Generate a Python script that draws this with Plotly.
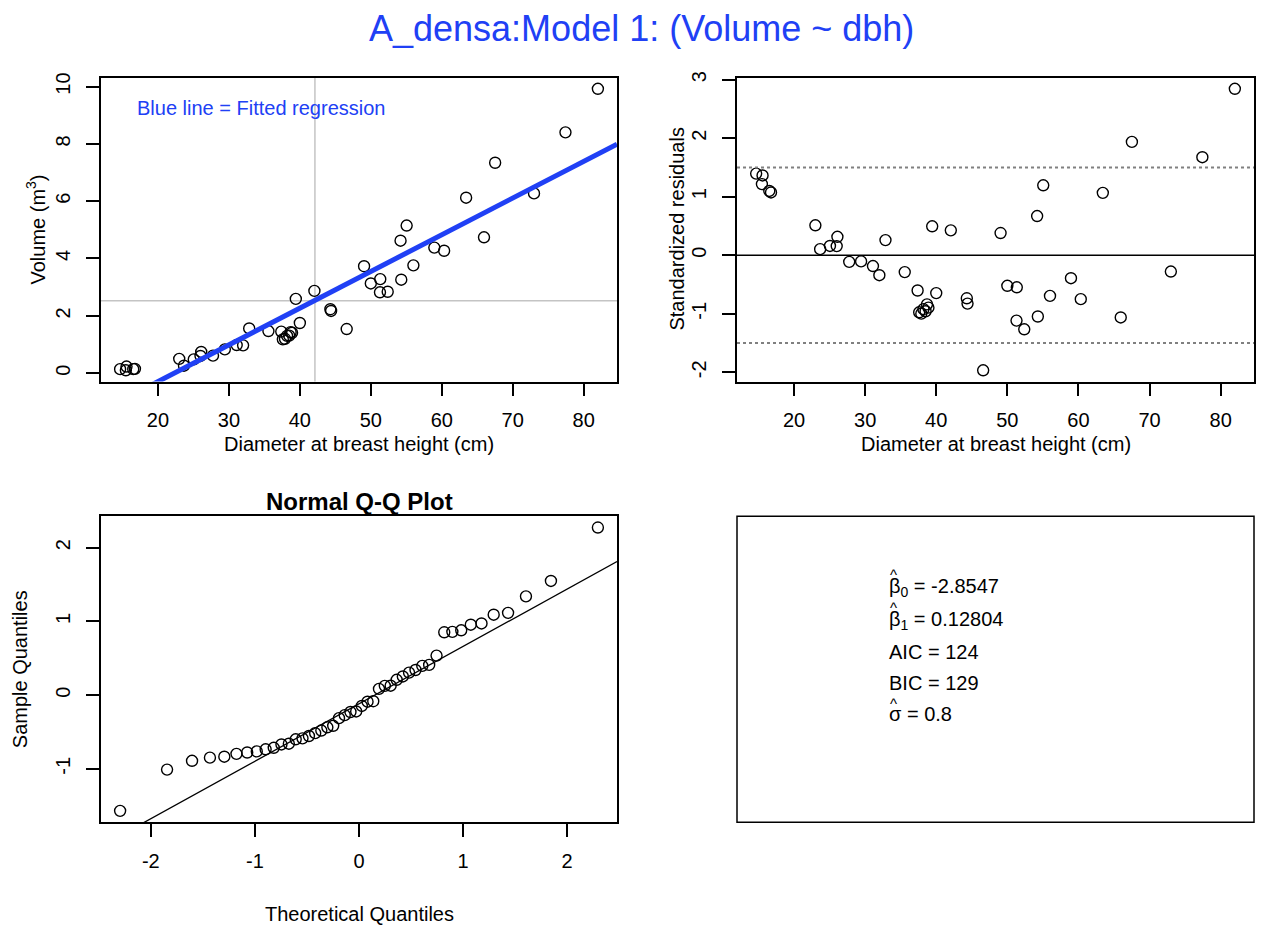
import numpy as np
import plotly.graph_objects as go
from statistics import NormalDist

# Tree measurements: diameter at breast height (cm) and stem volume (m^3)
dbh = [14.67, 15.48, 15.57, 16.52, 16.76, 23.0, 23.67, 25.05, 26.0, 26.1,
       27.76, 29.43, 31.1, 32.0, 32.86, 35.57, 37.38, 37.6, 37.9, 38.2,
       38.5, 38.7, 38.9, 39.43, 40.0, 42.05, 44.3, 44.4, 46.6, 49.05,
       50.0, 51.29, 51.33, 52.38, 54.19, 54.29, 55.05, 56.0, 58.95, 60.33,
       63.43, 65.95, 67.52, 73.0, 77.43, 82.0]
volume = [0.14, 0.10, 0.23, 0.14, 0.15, 0.50, 0.26, 0.48, 0.60, 0.74,
          0.61, 0.83, 0.98, 0.97, 1.56, 1.47, 1.45, 1.18, 1.20, 1.30,
          1.31, 1.43, 1.41, 2.59, 1.75, 2.87, 2.23, 2.17, 1.54, 3.73,
          3.13, 2.82, 3.28, 2.84, 4.62, 3.26, 5.15, 3.76, 4.38, 4.27,
          6.12, 4.74, 7.34, 6.27, 8.40, 9.92]

# Model summary
beta0 = -2.8547
beta1 = 0.12804
aic = 124
bic = 129
sigma_hat = 0.8

# Normal scores for n = 46 ordered residuals
theoretical_q = [-2.295, -1.844, -1.604, -1.432, -1.294, -1.177, -1.074, -0.982,
                 -0.897, -0.819, -0.745, -0.674, -0.608, -0.543, -0.481, -0.421,
                 -0.362, -0.304, -0.248, -0.192, -0.137, -0.082, -0.027,
                 0.027, 0.082, 0.137, 0.192, 0.248, 0.304, 0.362, 0.421,
                 0.481, 0.543, 0.608, 0.674, 0.745, 0.819, 0.897, 0.982,
                 1.074, 1.177, 1.294, 1.432, 1.604, 1.844, 2.295]

dbh_ticks = [20, 30, 40, 50, 60, 70, 80]
vol_ticks = [0, 2, 4, 6, 8, 10]
res_ticks = [-2, -1, 0, 1, 2, 3]
qq_x_ticks = [-2, -1, 0, 1, 2]
qq_y_ticks = [-1, 0, 1, 2]

main_title = "A_densa:Model 1: (Volume ~ dbh)"
x_label = "Diameter at breast height (cm)"

# ---- derived quantities -------------------------------------------------
dbh_a = np.array(dbh)
vol_a = np.array(volume)
fitted = beta0 + beta1 * dbh_a
raw_resid = vol_a - fitted
std_resid = raw_resid / sigma_hat
qq_sample = np.sort(raw_resid)

q1, q3 = np.percentile(raw_resid, [25, 75])
z1, z3 = NormalDist().inv_cdf(0.25), NormalDist().inv_cdf(0.75)
qq_slope = (q3 - q1) / (z3 - z1)
qq_int = q1 - qq_slope * z1


def padded(vals):
    lo, hi = float(np.min(vals)), float(np.max(vals))
    d = (hi - lo) * 0.04
    return [lo - d, hi + d]


x_rng = padded(dbh_a)
vol_rng = padded(vol_a)
res_rng = padded(std_resid)
qqx_rng = padded(theoretical_q)
qqy_rng = padded(qq_sample)

# ---- page geometry ------------------------------------------------------
W, H = 1261, 928
FONT = "Liberation Sans, Arial, Helvetica, sans-serif"
BLUE = "#2040f5"


def fx(p):
    return p / W


def fy(p):
    return 1 - p / H


# panel boxes in pixels: left, right, top, bottom
P1 = (101, 617, 72, 378)
P2 = (737, 1254, 72, 378)
P3 = (101, 617, 513.5, 821.5)
P4 = (737, 1254, 513.5, 821.5)


def label_text(v):
    return str(v)


def axis(box, horizontal, rng, ticks):
    l, r, t, b = box
    dom = [fx(l), fx(r)] if horizontal else [fy(b), fy(t)]
    d = dict(
        domain=dom, range=rng, showgrid=False, zeroline=False,
        showline=True, linecolor="black", linewidth=1.5, mirror=True,
        fixedrange=True,
        tickmode="array", tickvals=ticks,
        ticktext=[label_text(v) for v in ticks],
        ticks="outside", ticklen=13, tickwidth=1.5, tickcolor="black",
        tickfont=dict(size=20, color="black", family=FONT),
    )
    if horizontal:
        d.update(tickangle=0, ticklabelstandoff=7)
    else:
        d.update(tickangle=-90, ticklabelstandoff=8)
    return d


marker = dict(symbol="circle-open", size=11, color="black",
              line=dict(width=1.4, color="black"))

fig = go.Figure()

# Panel 1: volume vs dbh with fitted regression line
fig.add_trace(go.Scatter(x=dbh, y=volume, mode="markers", marker=marker,
                         xaxis="x", yaxis="y", hoverinfo="skip"))
line_x = np.array(x_rng)
fig.add_trace(go.Scatter(x=line_x, y=beta0 + beta1 * line_x, mode="lines",
                         line=dict(color=BLUE, width=5),
                         xaxis="x", yaxis="y", hoverinfo="skip"))

# Panel 2: standardized residuals vs dbh
fig.add_trace(go.Scatter(x=dbh, y=std_resid, mode="markers", marker=marker,
                         xaxis="x2", yaxis="y2", hoverinfo="skip"))

# Panel 3: normal Q-Q plot of residuals
fig.add_trace(go.Scatter(x=theoretical_q, y=qq_sample, mode="markers",
                         marker=marker, xaxis="x3", yaxis="y3",
                         hoverinfo="skip"))
qq_line_x = np.array(qqx_rng)
fig.add_trace(go.Scatter(x=qq_line_x, y=qq_int + qq_slope * qq_line_x,
                         mode="lines", line=dict(color="black", width=1.3),
                         xaxis="x3", yaxis="y3", hoverinfo="skip"))

shapes = [
    # mean crosshair in panel 1
    dict(type="line", xref="x", yref="y domain", x0=float(dbh_a.mean()),
         x1=float(dbh_a.mean()), y0=0, y1=1, layer="below",
         line=dict(color="#c4c4c4", width=1.5)),
    dict(type="line", xref="x domain", yref="y", x0=0, x1=1,
         y0=float(vol_a.mean()), y1=float(vol_a.mean()), layer="below",
         line=dict(color="#c4c4c4", width=1.5)),
    # reference lines in panel 2
    dict(type="line", xref="x2 domain", yref="y2", x0=0, x1=1, y0=0, y1=0,
         line=dict(color="black", width=1.5)),
    dict(type="line", xref="x2 domain", yref="y2", x0=0, x1=1, y0=1.5,
         y1=1.5, line=dict(color="#808080", width=2, dash="dot")),
    dict(type="line", xref="x2 domain", yref="y2", x0=0, x1=1, y0=-1.5,
         y1=-1.5, line=dict(color="#808080", width=2, dash="dot")),
    # frame of the summary panel
    dict(type="rect", xref="paper", yref="paper",
         x0=fx(P4[0]), x1=fx(P4[1]), y0=fy(P4[3]), y1=fy(P4[2]),
         line=dict(color="black", width=1.5), fillcolor="rgba(0,0,0,0)"),
]


def note(text, x, y, size=20, color="black", xanchor="center", angle=0):
    return dict(text=text, x=fx(x), y=fy(y), xref="paper", yref="paper",
                showarrow=False, xanchor=xanchor, yanchor="middle",
                textangle=angle,
                font=dict(size=size, color=color, family=FONT))


TX = 887  # left edge of the summary text block
annotations = [
    note(main_title, 641, 23, size=36, color=BLUE),
    note("Blue line = Fitted regression", 135, 103, color=BLUE,
         xanchor="left"),
    note(x_label, 359, 441),
    note(x_label, 995.5, 441),
    note("Volume (m<sup>3</sup>)", 36, 225, angle=-90),
    note("Standardized residuals", 677, 225, angle=-90),
    note("<b>Normal Q-Q Plot</b>", 359, 499, size=24),
    note("Theoretical Quantiles", 359, 914),
    note("Sample Quantiles", 20, 667.5, angle=-90),
    note(f"\u03b2<sub>0</sub> = {beta0:.4f}", TX, 585, xanchor="left"),
    note("^", TX + 6, 572, size=15),
    note(f"\u03b2<sub>1</sub> = {beta1:.5f}", TX, 618, xanchor="left"),
    note("^", TX + 6, 605, size=15),
    note(f"AIC = {aic}", TX, 650, xanchor="left"),
    note(f"BIC = {bic}", TX, 681, xanchor="left"),
    note(f"\u03c3 = {sigma_hat}", TX, 713, xanchor="left"),
    note("^", TX + 6, 702, size=15),
]

fig.update_layout(
    width=W, height=H, autosize=False,
    margin=dict(l=0, r=0, t=0, b=0),
    paper_bgcolor="white", plot_bgcolor="white",
    showlegend=False,
    font=dict(family=FONT, color="black"),
    xaxis=dict(axis(P1, True, x_rng, dbh_ticks), anchor="y"),
    yaxis=dict(axis(P1, False, vol_rng, vol_ticks), anchor="x"),
    xaxis2=dict(axis(P2, True, x_rng, dbh_ticks), anchor="y2"),
    yaxis2=dict(axis(P2, False, res_rng, res_ticks), anchor="x2"),
    xaxis3=dict(axis(P3, True, qqx_rng, qq_x_ticks), anchor="y3"),
    yaxis3=dict(axis(P3, False, qqy_rng, qq_y_ticks), anchor="x3"),
    shapes=shapes,
    annotations=annotations,
)

fig.write_html("out.html")
